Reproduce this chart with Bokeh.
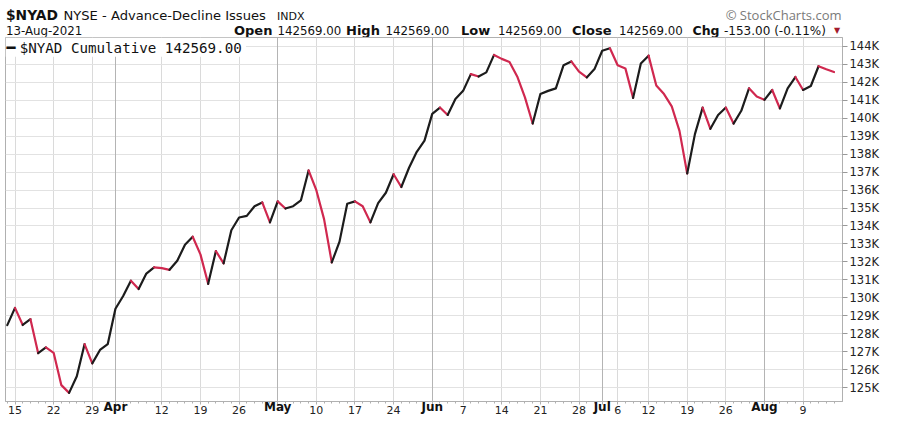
from bokeh.plotting import figure
from bokeh.models import FixedTicker, Grid, Label, BoxAnnotation, LinearAxis
from bokeh.layouts import column
from bokeh.core.properties import value
from bokeh.embed import file_html
from bokeh.resources import INLINE

# ---------------- data ----------------
# trading-day index 0 = 12-Mar-2021 ... 107 = 13-Aug-2021
day_index = list(range(108))
nyad_k = [
    128.48, 129.44, 128.49, 128.81, 126.92, 127.24, 126.94, 125.14, 124.71, 125.64,
    127.42, 126.35, 127.10, 127.42, 129.39, 130.10, 130.95, 130.49, 131.35, 131.70,
    131.65, 131.56, 132.06, 132.96, 133.40, 132.42, 130.78, 132.60, 131.92, 133.76,
    134.47, 134.56, 135.10, 135.31, 134.20, 135.37, 134.97, 135.10, 135.42, 137.09,
    135.99, 134.38, 131.97, 133.13, 135.24, 135.37, 135.10, 134.20, 135.27, 135.85,
    136.88, 136.17, 137.24, 138.13, 138.75, 140.24, 140.59, 140.18, 141.07, 141.52,
    142.45, 142.32, 142.55, 143.52, 143.30, 143.13, 142.32, 141.16, 139.70, 141.34,
    141.52, 141.66, 142.95, 143.16, 142.59, 142.27, 142.73, 143.75, 143.89, 142.95,
    142.77, 141.13, 143.04, 143.48, 141.82, 141.34, 140.66, 139.29, 136.92, 139.11,
    140.59, 139.41, 140.18, 140.59, 139.70, 140.41, 141.66, 141.20, 141.02, 141.57,
    140.54, 141.66, 142.29, 141.57, 141.79, 142.89, 142.72, 142.569,
]

x_tick_pos = [1, 6, 11, 14, 20, 25, 30, 35, 40, 45, 50, 55, 59, 64, 69, 74, 77, 79, 83, 88, 93, 98, 103]
x_tick_lbl = ["15", "22", "29", "Apr", "12", "19", "26", "May", "10", "17", "24", "Jun",
              "7", "14", "21", "28", "Jul", "6", "12", "19", "26", "Aug", "9"]
month_names = ["Apr", "May", "Jun", "Jul", "Aug"]

y_ticks = list(range(125, 145))
y_labels = [f"{t}K" for t in y_ticks]

header_open = "142569.00"
header_high = "142569.00"
header_low = "142569.00"
header_close = "142569.00"
header_chg = "-153.00 (-0.11%)"
legend_text = "$NYAD Cumulative 142569.00"

# ---------------- style ----------------
RED = "#d0284f"
BLACK = "#1c1c1c"
FONT = "DejaVu Sans"
W, H = 884, 420
SX, SY = W / 900.0, H / 436.0
HEAD_H = 37
BL, BR = 5, 42

# ---------------- header strip ----------------
hd = figure(width=W, height=HEAD_H, output_backend="svg", toolbar_location=None,
            x_range=(BL, W - BR), y_range=(HEAD_H, 0), x_axis_type=None, y_axis_type=None,
            min_border_left=BL, min_border_right=BR, min_border_top=0, min_border_bottom=0)
hd.outline_line_color = None
hd.grid.visible = False
hd.background_fill_color = "white"
hd.border_fill_color = "white"


def htxt(text, cx, cy, size, bold=False, color="#111111", font=FONT, align="left"):
    hd.text(x=[cx], y=[cy], text=[text], text_font=value(font),
            text_font_size=size, text_font_style="bold" if bold else "normal",
            text_color=color, text_align=align, text_baseline="middle")


R1, R2 = 14.6, 29.6
htxt("$NYAD", 5.5, R1, "13.8px", bold=True)
htxt("NYSE - Advance-Decline Issues", 63, R1 + 0.5, "13.1px")
htxt("INDX", 276.5, R1 + 1, "11px")
htxt("13-Aug-2021", 5.5, R2 + 0.5, "11.8px")
htxt("Open", 233.5, R2, "13px", bold=True)
htxt(header_open, 277, R2 + 0.5, "11.8px")
htxt("High", 345.5, R2, "13px", bold=True)
htxt(header_high, 385, R2 + 0.5, "11.8px")
htxt("Low", 460.5, R2, "13px", bold=True)
htxt(header_low, 497.5, R2 + 0.5, "11.8px")
htxt("Close", 571.5, R2, "13px", bold=True)
htxt(header_close, 618.5, R2 + 0.5, "11.8px")
htxt("Chg", 692, R2, "12.5px", bold=True)
htxt(header_chg, 723.5, R2 + 0.5, "12px")
htxt("\u25BC", 836.5, R2 + 0.5, "8px", color="#a31b2c", align="center")
htxt("\u00A9 StockCharts.com", 841, R1, "13px", color="#7a7a7a", font="Open Sans", align="right")

# ---------------- main chart ----------------
p = figure(width=W, height=H - HEAD_H, output_backend="svg", toolbar_location=None,
           x_range=(-0.23, 108.1), y_range=(124.23, 144.49),
           y_axis_location="right",
           min_border_left=BL, min_border_right=BR, min_border_top=0, min_border_bottom=19)
p.background_fill_color = "white"
p.border_fill_color = "white"
p.outline_line_color = "#b0b0b0"
p.outline_line_width = 1

# grids
p.ygrid.ticker = FixedTicker(ticks=y_ticks)
p.ygrid.grid_line_color = "#e2e2e2"
week_pos = [x for x, l in zip(x_tick_pos, x_tick_lbl) if l not in month_names]
month_pos = [x for x, l in zip(x_tick_pos, x_tick_lbl) if l in month_names]
p.xgrid.ticker = FixedTicker(ticks=week_pos)
p.xgrid.grid_line_color = "#dadada"
p.add_layout(Grid(dimension=0, ticker=FixedTicker(ticks=month_pos), grid_line_color="#b4b4b4"))

# day axis
xa = p.xaxis[0]
xa.ticker = FixedTicker(ticks=x_tick_pos, minor_ticks=day_index)
xa.major_label_overrides = {x: ("" if l in month_names else l) for x, l in zip(x_tick_pos, x_tick_lbl)}
xa.axis_line_color = "#b0b0b0"
xa.major_tick_line_color = "#b0b0b0"
xa.minor_tick_line_color = "#b0b0b0"
xa.major_tick_out = 3
xa.major_tick_in = 0
xa.minor_tick_out = 2
xa.minor_tick_in = 0
xa.major_label_standoff = 1
xa.major_label_text_font = FONT
xa.major_label_text_font_size = "11px"
xa.major_label_text_color = "#222222"

# month axis (bold names) pulled up onto the same row as the day labels
ma = LinearAxis(ticker=FixedTicker(ticks=month_pos),
                major_label_overrides={x: l for x, l in zip(x_tick_pos, x_tick_lbl) if l in month_names},
                axis_line_color=None, major_tick_line_color=None, minor_tick_line_color=None,
                major_tick_out=0, major_tick_in=0, major_label_standoff=-17,
                major_label_text_font=FONT, major_label_text_font_size="12px",
                major_label_text_font_style="bold", major_label_text_color="#111111")
p.add_layout(ma, "below")

ya = p.yaxis[0]
ya.ticker = FixedTicker(ticks=y_ticks)
ya.major_label_overrides = dict(zip(y_ticks, y_labels))
ya.axis_line_color = "#b0b0b0"
ya.major_tick_line_color = "#999999"
ya.major_tick_out = 5
ya.major_tick_in = 0
ya.minor_tick_line_color = None
ya.major_label_standoff = 2
ya.major_label_text_font = FONT
ya.major_label_text_font_size = "11.5px"
ya.major_label_text_color = "#222222"

# line: red on falling segments, black on rising ones
runs_x, runs_y, runs_c = [], [], []
cx, cy, cdir = [day_index[0]], [nyad_k[0]], None
for k in range(1, len(nyad_k)):
    d = "down" if nyad_k[k] < nyad_k[k - 1] else "up"
    if cdir is None or d == cdir:
        cx.append(day_index[k]); cy.append(nyad_k[k])
    else:
        runs_x.append(cx); runs_y.append(cy); runs_c.append(RED if cdir == "down" else BLACK)
        cx, cy = [day_index[k - 1], day_index[k]], [nyad_k[k - 1], nyad_k[k]]
    cdir = d
runs_x.append(cx); runs_y.append(cy); runs_c.append(RED if cdir == "down" else BLACK)
p.multi_line(xs=runs_x, ys=runs_y, line_color=runs_c, line_width=2.2,
             line_join="round", line_cap="round")

# legend box (white) inside the plot
p.add_layout(BoxAnnotation(left=-0.23, right=30.9, top=144.49, bottom=143.42,
                           fill_color="white", fill_alpha=1.0, line_color=None))
p.add_layout(Label(x=6, y=49 * SY - HEAD_H, x_units="canvas", y_units="canvas",
                   text="\u2501", text_font="DejaVu Sans Mono", text_font_size="15px",
                   text_color="#111111", text_baseline="middle"))
p.add_layout(Label(x=19.5 * SX, y=49.5 * SY - HEAD_H, x_units="canvas", y_units="canvas",
                   text=legend_text, text_font="DejaVu Sans Mono", text_font_size="14.2px",
                   text_color="#111111", text_baseline="middle"))

layout = column(hd, p, spacing=0)
open("out.html", "w").write(file_html(layout, INLINE))
